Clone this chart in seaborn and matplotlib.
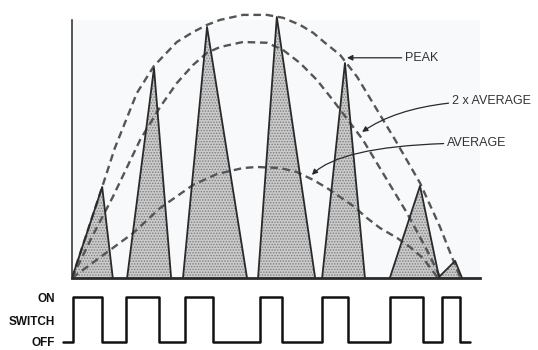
import pandas as pd
import seaborn as sns
import matplotlib.pyplot as plt

# time axis in % of the window, amplitude in % of the peak envelope
tri_start = [0.0, 13.5, 27.2, 45.6, 61.3, 77.9, 89.7]
tri_apex_t = [7.4, 20.1, 33.1, 50.2, 66.9, 85.3, 93.9]
tri_apex_a = [34.6, 79.8, 95.4, 99.2, 81.7, 35.0, 6.5]
tri_end = [10.0, 24.3, 42.9, 59.6, 71.8, 90.0, 95.6]

peak_t = [0.0, 7.4, 10.5, 15.9, 20.1, 25.7, 29.7, 33.1, 36.3, 41.9, 47.8,
          51.7, 55.9, 59.1, 62.0, 65.7, 69.9, 79.2, 85.3, 90.2, 93.1, 95.1]
peak_a = [0.0, 34.6, 49.4, 70.3, 80.6, 89.7, 93.5, 96.2, 98.1, 100.0, 100.0,
          98.9, 96.2, 93.2, 89.4, 84.8, 76.4, 52.5, 36.1, 19.4, 8.0, 0.4]

avg2_t = [0.0, 4.9, 10.0, 16.7, 21.6, 25.7, 29.7, 33.1, 36.3, 41.9, 47.8,
          51.7, 55.9, 60.0, 63.9, 71.3, 76.2, 82.1, 87.0, 90.2]
avg2_a = [0.0, 15.6, 30.8, 52.5, 65.0, 74.1, 81.0, 85.6, 87.8, 89.7, 89.4,
          86.7, 81.7, 75.3, 67.7, 52.5, 39.9, 24.7, 10.6, 0.4]

avg_t = [0.0, 9.3, 15.0, 21.6, 29.7, 35.5, 41.9, 45.3, 51.0, 55.1, 59.1,
         62.5, 65.7, 68.9, 72.3, 75.5, 79.7, 82.8, 86.0, 89.5]
avg_a = [0.0, 10.6, 17.1, 26.6, 35.4, 39.5, 41.8, 42.2, 41.8, 40.3, 37.3,
         34.2, 30.8, 27.4, 22.8, 19.0, 15.2, 11.8, 7.6, 0.4]

switch_t = [-2.2, 0.2, 7.4, 13.2, 21.3, 27.7, 34.6, 46.1, 51.5, 61.3, 67.6,
            77.9, 86.0, 90.7, 95.1, 97.5]
switch_state = [0, 1, 0, 1, 0, 1, 0, 1, 0, 1, 0, 1, 0, 1, 0, 0]
switch_labels = ["ON", "SWITCH", "OFF"]

sns.set_theme(style="white")
plt.rcParams["font.family"] = ["Liberation Sans", "DejaVu Sans"]
plt.rcParams["hatch.linewidth"] = 0.7

fig = plt.figure(figsize=(5.38, 3.5), dpi=100)
ax = fig.add_axes([72 / 538, 72 / 350, 408 / 538, 271 / 350])
ax.set_xlim(0, 100)
ax.set_ylim(0, 103)
ax.axhspan(0, 98, color="#f8f9fa", zorder=0, lw=0)

for s, t, a, e in zip(tri_start, tri_apex_t, tri_apex_a, tri_end):
    ax.fill([s, t, e], [0, a, 0], facecolor="#cbcbcb", edgecolor="#7e7e7e",
            hatch="......", lw=0, zorder=1)
    ax.plot([s, t, e], [0, a, 0], color="#2a2a2a", lw=1.3, zorder=3)

dash = (0, (3.2, 2.0))
for xs, ys in [(peak_t, peak_a), (avg2_t, avg2_a), (avg_t, avg_a)]:
    sns.lineplot(x=xs, y=ys, ax=ax, sort=False, color="#555555", lw=1.7,
                 linestyle=dash, zorder=2)

arrow = dict(arrowstyle="-|>", color="#2a2a2a", lw=0.9, mutation_scale=8,
             shrinkA=0, shrinkB=0)
txt = dict(ha="left", va="center", fontsize=9, color="#333333",
           annotation_clip=False)
ax.annotate("PEAK", xy=(67.4, 83.7), xytext=(81.6, 83.7),
            arrowprops=arrow, **txt)
ax.annotate("2 x AVERAGE", xy=(71.1, 55.5), xytext=(93.1, 67.3),
            arrowprops=dict(arrow, connectionstyle="angle3,angleA=0,angleB=35"),
            **txt)
ax.annotate("AVERAGE", xy=(58.8, 39.2), xytext=(91.9, 51.3),
            arrowprops=dict(arrow, connectionstyle="angle3,angleA=0,angleB=45"),
            **txt)

sns.despine(ax=ax)
ax.spines["left"].set_bounds(0, 98)
ax.spines["left"].set_color("#3a3a3a")
ax.spines["left"].set_linewidth(1.2)
ax.spines["bottom"].set_color("#2a2a2a")
ax.spines["bottom"].set_linewidth(2.0)
ax.set_xticks([])
ax.set_yticks([])
ax.set_xlabel("")
ax.set_ylabel("")

# switch waveform
sw = fig.add_axes([72 / 538, 0, 408 / 538, 60 / 350])
sw.set_xlim(0, 100)
sw.set_ylim(-0.178, 1.156)
sw_df = pd.DataFrame({"t": switch_t, "state": switch_state})
sns.lineplot(data=sw_df, x="t", y="state", ax=sw, drawstyle="steps-post",
             color="#111111", lw=1.8, clip_on=False)
sw.set_yticks([1, 0.48, 0])
sw.set_yticklabels(switch_labels, fontsize=8.5, fontweight="bold",
                   color="#111111")
sw.tick_params(axis="y", length=0, pad=12)
sw.set_xticks([])
sw.set_xlabel("")
sw.set_ylabel("")
for side in sw.spines.values():
    side.set_visible(False)
sw.patch.set_alpha(0)

fig.savefig("out.png", dpi=100, facecolor="white")
